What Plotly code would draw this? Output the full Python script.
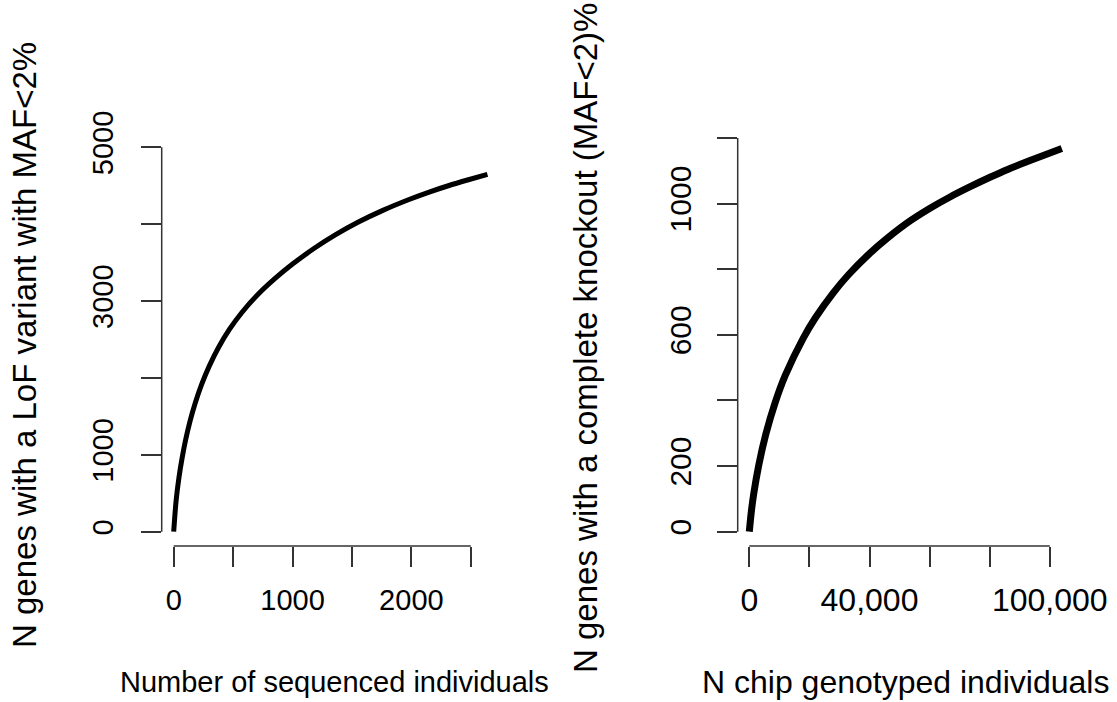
import plotly.graph_objects as go

# Left panel: LoF genes vs number of sequenced individuals
seq_n = [0, 20, 45, 70, 100, 137, 180, 235, 300, 376, 470, 572, 700, 853, 1000,
         1189, 1370, 1554, 1760, 1975, 2150, 2311, 2480, 2640]
seq_genes = [0, 400, 712, 952, 1192, 1436, 1668, 1916, 2157, 2393, 2633, 2847, 3071, 3293, 3480,
             3692, 3869, 4027, 4179, 4317, 4417, 4499, 4577, 4647]
seq_xticks = [0, 500, 1000, 1500, 2000, 2500]
seq_xlabels = ["0", "", "1000", "", "2000", ""]
seq_yticks = [0, 1000, 2000, 3000, 4000, 5000]
seq_ylabels = ["0", "1000", "", "3000", "", "5000"]

# Right panel: complete knockouts vs chip genotyped individuals
chip_n = [0, 700, 1500, 3200, 5500, 8550, 12000, 17970, 22000, 27950, 33000, 40170, 46000,
          53480, 60000, 66790, 73000, 80100, 86000, 93410, 104000]
chip_genes = [0, 63, 117, 205, 297, 392, 477, 590, 652, 728, 783, 849, 895,
              947, 985, 1020, 1049, 1080, 1104, 1131, 1168]
chip_xticks = [0, 20000, 40000, 60000, 80000, 100000]
chip_xlabels = ["0", "", "40,000", "", "", "100,000"]
chip_yticks = [0, 200, 400, 600, 800, 1000, 1200]
chip_ylabels = ["0", "200", "", "600", "", "1000", ""]

W, H = 1117, 702
FAMILY = "Liberation Sans, Arial, sans-serif"


def font(size):
    return dict(family=FAMILY, size=size, color="black")


AXC = "#333333"


def px_x(p):
    return p / W


def px_y(p):
    return (H - p) / H


fig = go.Figure()
fig.add_trace(go.Scatter(x=seq_n, y=seq_genes, mode="lines",
                         line=dict(color="black", width=5, shape="spline", smoothing=0.8),
                         xaxis="x", yaxis="y", showlegend=False, hoverinfo="skip"))
fig.add_trace(go.Scatter(x=chip_n, y=chip_genes, mode="lines",
                         line=dict(color="black", width=7, shape="spline", smoothing=0.8),
                         xaxis="x2", yaxis="y2", showlegend=False, hoverinfo="skip"))

axis_common = dict(showgrid=False, zeroline=False, showline=False, ticks="outside",
                   ticklen=20, tickwidth=1.5, tickcolor=AXC,
                   tickmode="array", fixedrange=True, automargin=False)

fig.update_layout(
    template="none",
    width=W, height=H,
    margin=dict(l=0, r=0, t=0, b=0, pad=0, autoexpand=False),
    paper_bgcolor="white", plot_bgcolor="white",
    showlegend=False,
    xaxis=dict(axis_common, domain=[px_x(161.7), px_x(500.5)], range=[-101, 2750],
               tickvals=seq_xticks, ticktext=seq_xlabels, anchor="y",
               tickfont=font(29), ticklabelstandoff=8),
    yaxis=dict(axis_common, domain=[px_y(546), px_y(132)], range=[-186, 5198],
               tickvals=seq_yticks, ticktext=seq_ylabels, anchor="x", tickangle=-90,
               tickfont=font(29), ticklabelstandoff=16),
    xaxis2=dict(axis_common, domain=[px_x(737.7), px_x(1076.5)], range=[-3860, 108885],
                tickvals=chip_xticks, ticktext=chip_xlabels, anchor="y2",
                tickfont=font(32), ticklabelstandoff=6),
    yaxis2=dict(axis_common, domain=[px_y(546), px_y(132)], range=[-43.6, 1218],
                tickvals=chip_yticks, ticktext=chip_ylabels, anchor="x2", tickangle=-90,
                tickfont=font(30), ticklabelstandoff=14),
)

# Axis lines span only from the first to the last tick
shapes = [
    dict(type="line", xref="x", yref="y domain", x0=seq_xticks[0], x1=seq_xticks[-1], y0=0, y1=0,
         line=dict(color=AXC, width=1.5)),
    dict(type="line", xref="x domain", yref="y", x0=0, x1=0, y0=seq_yticks[0], y1=seq_yticks[-1],
         line=dict(color=AXC, width=1.5)),
    dict(type="line", xref="x2", yref="y2 domain", x0=chip_xticks[0], x1=chip_xticks[-1], y0=0, y1=0,
         line=dict(color=AXC, width=1.5)),
    dict(type="line", xref="x2 domain", yref="y2", x0=0, x1=0, y0=chip_yticks[0], y1=chip_yticks[-1],
         line=dict(color=AXC, width=1.5)),
]
fig.update_layout(shapes=shapes)

annotations = [
    dict(text="Number of sequenced individuals", x=px_x(334), y=px_y(682), font=font(29)),
    dict(text="N chip genotyped individuals", x=px_x(905), y=px_y(682), font=font(32)),
    dict(text="N genes with a LoF variant with MAF<2%", x=px_x(24), y=px_y(345),
         textangle=-90, font=font(33)),
    dict(text="N genes with a complete knockout (MAF<2)%", x=px_x(585), y=px_y(338),
         textangle=-90, font=font(33)),
]
for a in annotations:
    a.update(xref="paper", yref="paper", showarrow=False,
             xanchor="center", yanchor="middle")
fig.update_layout(annotations=annotations)

fig.write_html("out.html")
